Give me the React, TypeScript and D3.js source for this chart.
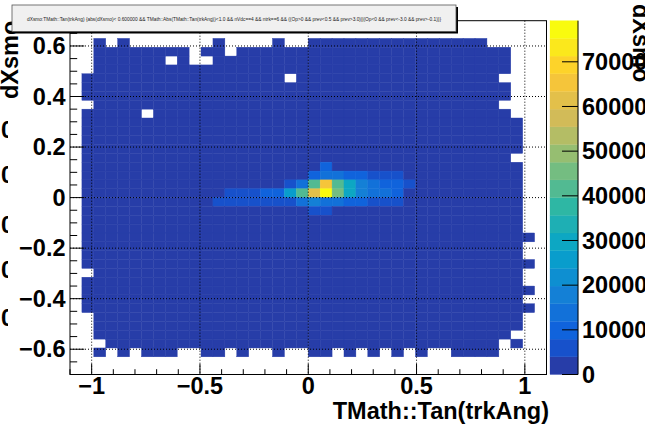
import React from "react";
import * as d3 from "d3";

const W = 645;
const H = 426;

// Binning of the 2D histogram
const X_MIN = -1.1;
const X_MAX = 1.1;
const NX = 40;
const Y_MIN = -0.7;
const Y_MAX = 0.7;
const NY = 40;
const N_CONTOURS = 20;

// Filled bins of the broad low-count plateau: [row, [[firstCol, lastCol], ...]]
const occupiedRuns: [number, [number, number][]][] = [
  [37, [[2, 2], [4, 4], [12, 12], [17, 17], [20, 34]]],
  [36, [[2, 9], [11, 12], [14, 36]]],
  [35, [[2, 7], [9, 9], [12, 36]]],
  [34, [[2, 36]]],
  [33, [[1, 17], [19, 35]]],
  [32, [[1, 36]]],
  [31, [[1, 36]]],
  [30, [[2, 35]]],
  [29, [[1, 5], [7, 36]]],
  [28, [[1, 37]]],
  [27, [[1, 37]]],
  [26, [[1, 37]]],
  [25, [[1, 37]]],
  [24, [[1, 36]]],
  [23, [[1, 37]]],
  [22, [[1, 37]]],
  [21, [[1, 37]]],
  [20, [[1, 37]]],
  [19, [[1, 37]]],
  [18, [[1, 37]]],
  [17, [[1, 37]]],
  [16, [[1, 37]]],
  [15, [[1, 38]]],
  [14, [[1, 37]]],
  [13, [[1, 37]]],
  [12, [[1, 38]]],
  [11, [[2, 37]]],
  [10, [[1, 37]]],
  [9, [[1, 38]]],
  [8, [[1, 37]]],
  [7, [[1, 38]]],
  [6, [[2, 37]]],
  [5, [[2, 37]]],
  [4, [[2, 36]]],
  [3, [[3, 35], [37, 37]]],
  [2, [[2, 2], [4, 4], [6, 8], [11, 12], [14, 14], [17, 17], [20, 21], [23, 23], [25, 25], [27, 27], [29, 29], [32, 35]]],
];
const plateauCount = 1200;

// Populated core around the peak: [col, row, entries]
const coreBins: [number, number, number][] = [
  [21, 23, 9800],
  [20, 22, 10400], [21, 22, 13200], [22, 22, 12600], [23, 22, 9600], [24, 22, 8900],
  [25, 22, 6400], [26, 22, 5900], [27, 22, 5200],
  [18, 21, 5600], [19, 21, 13500], [20, 21, 41800], [21, 21, 65400], [22, 21, 42100],
  [23, 21, 29800], [24, 21, 17600], [25, 21, 14300], [26, 21, 10900], [27, 21, 9400], [28, 21, 5100],
  [13, 20, 4700], [14, 20, 5300], [15, 20, 6100], [16, 20, 8600], [17, 20, 10200],
  [18, 20, 26700], [19, 20, 41200], [20, 20, 61300], [21, 20, 79200], [22, 20, 46300],
  [23, 20, 29500], [24, 20, 18400], [25, 20, 13800], [26, 20, 12700], [27, 20, 9300],
  [12, 19, 4400], [13, 19, 5100], [14, 19, 5700], [15, 19, 6200], [16, 19, 6600], [17, 19, 7100],
  [18, 19, 7400], [19, 19, 13100], [20, 19, 17200], [21, 19, 14600], [22, 19, 12400],
  [23, 19, 10100], [24, 19, 8800], [25, 19, 6900], [26, 19, 6200], [27, 19, 5400],
  [20, 18, 5800], [21, 18, 6300],
];

const xMajorTicks = [-1, -0.5, 0, 0.5, 1];
const xTickLabels = ["\u22121", "\u22120.5", "0", "0.5", "1"];
const yMajorTicks = [-0.6, -0.4, -0.2, 0, 0.2, 0.4, 0.6];
const yTickLabels = ["\u22120.6", "\u22120.4", "\u22120.2", "0", "0.2", "0.4", "0.6"];
const zTicks = [0, 10000, 20000, 30000, 40000, 50000, 60000, 70000];
const edgeZeroRows = [130, 175, 225, 270, 318];

const histTitle =
  "dXsmo:TMath::Tan(trkAng) {abs(dXsmo)< 0.600000 && TMath::Abs(TMath::Tan(trkAng))<1.0 && nVdc==4 && ntrk==6 && ((Op>0 && prev<0.5 && prev>3.0)||(Op<0 && prev<-3.0 && prev>-0.1))}";
const xTitle = "TMath::Tan(trkAng)";
const yTitle = "dXsmo";
const zTitle = "dXsmo";

// ROOT kBird palette stops
const birdStops = [0.0, 0.125, 0.25, 0.375, 0.5, 0.625, 0.75, 0.875, 1.0];
const birdR = [0.2082, 0.0592, 0.078, 0.0232, 0.1802, 0.5301, 0.8186, 0.9956, 0.9764];
const birdG = [0.1664, 0.3599, 0.5041, 0.6419, 0.7178, 0.7492, 0.7328, 0.7862, 0.9832];
const birdB = [0.5293, 0.8684, 0.8385, 0.7914, 0.6425, 0.4662, 0.3499, 0.1968, 0.0539];

const FONT = "'Liberation Sans', Arial, Helvetica, sans-serif";

// frame geometry
const FX0 = 70;
const FX1 = 546.5;
const FY0 = 20.7;
const FY1 = 374.5;
const PX0 = 550;
const PX1 = 578;

export default function App() {
  const xs = d3.scaleLinear().domain([X_MIN, X_MAX]).range([FX0, FX1]);
  const ys = d3.scaleLinear().domain([Y_MIN, Y_MAX]).range([FY1, FY0]);
  const dx = (X_MAX - X_MIN) / NX;
  const dy = (Y_MAX - Y_MIN) / NY;

  const birdScale = d3
    .scaleLinear<string>()
    .domain(birdStops)
    .range(birdStops.map((_, i) => d3.rgb(birdR[i] * 255, birdG[i] * 255, birdB[i] * 255).toString()))
    .interpolate(d3.interpolateRgb);

  const levelColors = d3.range(N_CONTOURS).map((k) => {
    const idx = Math.floor(((k + 0.99) * 255) / N_CONTOURS);
    return birdScale(idx / 254);
  });

  // assemble bin contents
  const contents = new Map<string, number>();
  occupiedRuns.forEach(([row, runs]) => {
    runs.forEach(([a, b]) => {
      for (let c = a; c <= b; c++) contents.set(`${c},${row}`, plateauCount);
    });
  });
  coreBins.forEach(([c, r, v]) => contents.set(`${c},${r}`, v));

  const zMax = d3.max(Array.from(contents.values())) as number;
  const zs = d3.scaleLinear().domain([0, zMax]).range([FY1, FY0]);
  const levelOf = (v: number) => Math.min(N_CONTOURS - 1, Math.floor((v / zMax) * N_CONTOURS));

  const cells = Array.from(contents.entries()).map(([key, v]) => {
    const [c, r] = key.split(",").map(Number);
    const x0 = xs(X_MIN + c * dx);
    const x1 = xs(X_MIN + (c + 1) * dx);
    const y0 = ys(Y_MIN + (r + 1) * dy);
    const y1 = ys(Y_MIN + r * dy);
    return { key, x: x0, y: y0, w: x1 - x0, h: y1 - y0, color: levelColors[levelOf(v)] };
  });

  const xMinor = d3.range(-11, 12).map((i) => i / 10);
  const yMinor = d3.range(-14, 15).map((i) => i / 20);
  const dz = zMax / N_CONTOURS;

  const labelStyle = { fontFamily: FONT, fontWeight: 700, fontSize: 23.5 } as const;

  return (
    <svg
      width={W}
      height={H}
      viewBox={`0 0 ${W} ${H}`}
      style={{ position: "absolute", left: 0, top: 0, background: "#fff" }}
    >
      <defs>
        <clipPath id="edgeClip">
          <rect x={0} y={0} width={8} height={H} />
        </clipPath>
      </defs>
      <rect x={0} y={0} width={W} height={H} fill="#fff" />

      {/* histogram cells */}
      <g>
        {cells.map((c) => (
          <rect key={c.key} x={c.x} y={c.y} width={c.w} height={c.h} fill={c.color} stroke={c.color} strokeWidth={0.4} />
        ))}
      </g>

      {/* grid */}
      <g stroke="#000" strokeWidth={1} strokeDasharray="1 2">
        {xMajorTicks.map((t) => (
          <line key={`gx${t}`} x1={xs(t)} x2={xs(t)} y1={FY0} y2={FY1} />
        ))}
        {yMajorTicks.map((t) => (
          <line key={`gy${t}`} x1={FX0} x2={FX1} y1={ys(t)} y2={ys(t)} />
        ))}
      </g>

      {/* frame and ticks */}
      <rect x={FX0} y={FY0} width={FX1 - FX0} height={FY1 - FY0} fill="none" stroke="#000" strokeWidth={1} />
      <g stroke="#000" strokeWidth={1}>
        {xMinor.map((t) => {
          const major = xMajorTicks.some((m) => Math.abs(m - t) < 1e-9);
          return <line key={`tx${t}`} x1={xs(t)} x2={xs(t)} y1={FY1} y2={FY1 - (major ? 10.6 : 5.3)} />;
        })}
        {yMinor.map((t) => {
          const major = yMajorTicks.some((m) => Math.abs(m - t) < 1e-9);
          return <line key={`ty${t}`} x1={FX0} x2={FX0 + (major ? 14.3 : 7.2)} y1={ys(t)} y2={ys(t)} />;
        })}
      </g>

      {/* axis labels */}
      <g {...labelStyle} fill="#000">
        {xMajorTicks.map((t, i) => (
          <text key={`lx${t}`} x={xs(t)} y={394} textAnchor="middle">
            {xTickLabels[i]}
          </text>
        ))}
        {yMajorTicks.map((t, i) => (
          <text key={`ly${t}`} x={65.5} y={ys(t)} dy="0.35em" textAnchor="end">
            {yTickLabels[i]}
          </text>
        ))}
        <text x={549} y={419} textAnchor="end">
          {xTitle}
        </text>
        <text transform={`translate(17.5, ${FY0}) rotate(-90)`} textAnchor="end">
          {yTitle}
        </text>
        <g clipPath="url(#edgeClip)">
          {edgeZeroRows.map((y) => (
            <text key={`ez${y}`} x={1} y={y} dy="0.35em">
              0
            </text>
          ))}
        </g>
      </g>

      {/* colour palette */}
      <g>
        {d3.range(N_CONTOURS).map((k) => (
          <rect
            key={`pal${k}`}
            x={PX0}
            y={zs((k + 1) * dz)}
            width={PX1 - PX0}
            height={zs(k * dz) - zs((k + 1) * dz)}
            fill={levelColors[k]}
            stroke={levelColors[k]}
            strokeWidth={0.3}
          />
        ))}
        <line x1={PX1} x2={PX1} y1={FY0} y2={FY1} stroke="#000" strokeWidth={1} />
        {zTicks.map((t) => (
          <line key={`tz${t}`} x1={PX1} x2={PX1 - 16} y1={zs(t)} y2={zs(t)} stroke="#000" strokeWidth={1} />
        ))}
        <g {...labelStyle} fill="#000">
          {zTicks.map((t) => (
            <text key={`lz${t}`} x={582} y={zs(t)} dy="0.35em">
              {t}
            </text>
          ))}
          <text transform="translate(633, 4) rotate(90)">{zTitle}</text>
        </g>
      </g>

      {/* title box */}
      <g>
        <rect x={14} y={7} width={444} height={26.5} fill="#000" />
        <rect x={12} y={5} width={444} height={26.5} fill="#f0f0f0" stroke="#555" strokeWidth={0.8} />
        <text
          x={234}
          y={20.5}
          textAnchor="middle"
          fontFamily={FONT}
          fontSize={5.5}
          fill="#222"
          textLength={414}
          lengthAdjust="spacingAndGlyphs"
        >
          {histTitle}
        </text>
      </g>
    </svg>
  );
}
